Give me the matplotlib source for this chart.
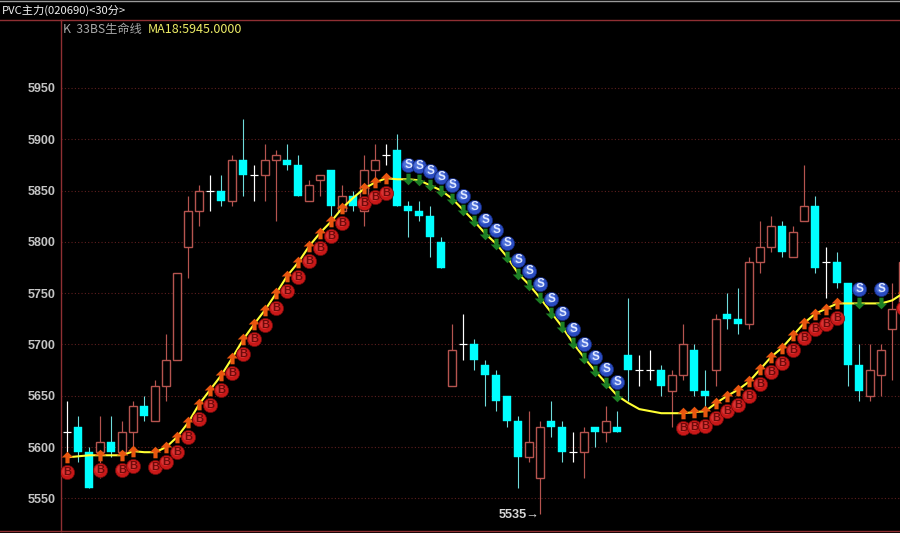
import matplotlib
matplotlib.use("Agg")
import matplotlib.pyplot as plt
import matplotlib.transforms as mtrans
from matplotlib.lines import Line2D
from matplotlib.path import Path
import numpy as np

title = "PVC主力(020690)<30分>"
legend_k = "K  33BS生命线"
legend_ma = "MA18:5945.0000"
low_label = "5535→"
low_label_price = 5535
low_label_index = 43
ticks = [5550, 5600, 5650, 5700, 5750, 5800, 5850, 5900, 5950]

highs = [5645,5630,5600,5630,5630,5625,5645,5650,5665,5710,5770,5845,5855,5865,5865,5885,5920,5875,5895,5890,
         5895,5885,5860,5865,5870,5855,5850,5885,5895,5895,5905,5840,5840,5835,5805,5720,5730,5705,5685,5675,
         5650,5630,5635,5625,5645,5625,5615,5620,5620,5640,5635,5745,5690,5695,5680,5675,5720,5700,5675,5730,
         5750,5755,5785,5820,5825,5820,5815,5875,5845,5795,5790,5760,5700,5700,5700,5760,5790]
tops = [5615,5620,5595,5605,5605,5615,5640,5640,5660,5685,5770,5830,5850,5850,5850,5880,5880,5865,5880,5885,
        5880,5875,5855,5865,5870,5845,5845,5870,5880,5885,5890,5835,5830,5825,5800,5695,5700,5700,5680,5670,
        5650,5625,5605,5620,5625,5620,5595,5615,5620,5625,5620,5690,5675,5675,5675,5670,5700,5695,5655,5725,
        5730,5725,5780,5795,5815,5815,5810,5835,5835,5780,5780,5760,5680,5675,5695,5735,5780]
bottoms = [5615,5595,5560,5595,5595,5595,5615,5630,5625,5660,5685,5795,5830,5850,5840,5840,5865,5865,5865,5880,
           5875,5845,5840,5860,5835,5830,5835,5830,5870,5885,5835,5830,5825,5805,5775,5660,5700,5685,5670,5645,
           5625,5590,5590,5570,5620,5595,5595,5595,5615,5615,5615,5675,5675,5675,5660,5655,5670,5655,5650,5675,
           5725,5720,5720,5780,5795,5790,5785,5820,5775,5780,5760,5680,5655,5650,5670,5715,5735]
lows = [5595,5585,5560,5570,5590,5590,5595,5625,5625,5645,5685,5765,5815,5830,5835,5835,5845,5840,5840,5820,
        5870,5845,5840,5845,5825,5830,5830,5815,5860,5875,5835,5805,5820,5785,5775,5660,5685,5675,5640,5635,
        5620,5560,5585,5535,5610,5585,5585,5570,5600,5605,5615,5645,5660,5665,5650,5620,5665,5650,5640,5660,
        5715,5710,5715,5770,5790,5785,5785,5820,5770,5745,5755,5660,5645,5645,5650,5665,5735]
rising = [0,0,0,1,0,1,1,0,1,1,1,1,1,0,0,1,0,0,1,1,
          0,0,1,1,0,1,0,1,1,0,0,0,0,0,0,1,0,0,0,0,
          0,0,1,1,0,0,0,1,0,1,0,0,0,0,0,1,1,0,0,1,
          0,0,1,1,1,0,1,1,0,0,0,0,0,1,1,1,1]
ma18 = [5590,5591,5592,5592,5592,5592,5596,5595,5595,5600,5610,5624,5642,5656,5670,5687,5705,5720,5734,5750,
        5767,5780,5796,5809,5820,5833,5843,5852,5858,5862,5861,5861,5860,5855,5850,5842,5831,5820,5808,5798,
        5785,5769,5758,5745,5731,5717,5701,5687,5674,5662,5650,5643,5637,5635,5633,5633,5633,5634,5635,5643,
        5650,5656,5664,5676,5688,5697,5709,5721,5730,5735,5740,5740,5740,5740,5740,5743,5750]
buy_idx = [0,3,5,6,8,9,10,11,12,13,14,15,16,17,18,19,20,21,22,23,24,25,27,28,29,
           56,57,58,59,60,61,62,63,64,65,66,67,68,69,70,76]
sell_idx = [31,32,33,34,35,36,37,38,39,40,41,42,43,44,45,46,47,48,49,50,72,74]

BG = "#000000"
FRAME = "#8f2f33"
GRID = "#5e1f1f"
RED = "#b5544f"
CYAN = "#00ffff"
WICK_CYAN = "#6fdcdc"
WHITE = "#ffffff"

plt.rcParams['font.family'] = ['Liberation Sans', 'Noto Sans CJK SC', 'DejaVu Sans']
W, H = 900, 533
fig = plt.figure(figsize=(9, 5.33), dpi=100, facecolor=BG)
L, R, T, B = 61.5, 900, 19.5, 531.0
ax = fig.add_axes([L / W, 1 - B / H, (R - L) / W, (B - T) / H], facecolor=BG)
ax.set_xlim(-0.527, 75.7)
ax.set_ylim(5518.2, 6016.7)

for s in ["top", "right", "bottom", "left"]:
    ax.spines[s].set_color(FRAME)
    ax.spines[s].set_linewidth(1.0)
ax.spines["right"].set_visible(False)
ax.set_xticks([])
ax.set_yticks(ticks)
ax.set_yticklabels([str(t) for t in ticks], color="#c4c4c4", fontsize=9, fontweight="bold")
ax.tick_params(axis="y", length=0, pad=4)
ax.grid(axis="y", color=GRID, linestyle=(0, (1, 2)), linewidth=0.8)
ax.set_axisbelow(True)

for yp in (T, B):
    fig.add_artist(Line2D([0, L / W], [1 - yp / H] * 2, color=FRAME, lw=1.0, transform=fig.transFigure))
fig.add_artist(Line2D([0, 1], [0.9985, 0.9985], color="#9a9a9a", lw=1.0, transform=fig.transFigure))

bw = 0.76
lw_px = 0.72
for i in range(len(highs)):
    h, t, b, l, up = highs[i], tops[i], bottoms[i], lows[i], rising[i]
    if t == b:
        ax.vlines(i, l, h, color=WHITE, lw=lw_px * 1.2, zorder=3)
        ax.hlines(t, i - bw / 2, i + bw / 2, color=WHITE, lw=lw_px * 1.2, zorder=3)
    elif up:
        ax.vlines(i, l, h, color=RED, lw=lw_px * 1.2, zorder=3)
        ax.bar(i, t - b, bottom=b, width=bw, facecolor=BG, edgecolor=RED, linewidth=lw_px * 1.4, zorder=4)
    else:
        ax.vlines(i, l, h, color=WICK_CYAN, lw=lw_px * 1.1, zorder=3)
        ax.bar(i, t - b, bottom=b, width=bw, facecolor=CYAN, edgecolor=CYAN, linewidth=0.3, zorder=4)

xs = np.arange(len(ma18))
ax.plot(xs, ma18, color="#ffff33", lw=1.5, zorder=5)

up_arrow = Path([(-0.36, -1), (0.36, -1), (0.36, 0), (1, 0), (0, 1), (-1, 0), (-0.36, 0), (-0.36, -1)], closed=True)
down_arrow = Path([(-0.36, 1), (0.36, 1), (0.36, 0), (1, 0), (0, -1), (-1, 0), (-0.36, 0), (-0.36, 1)], closed=True)

buy_y = [ma18[i] for i in buy_idx]
sell_y = [ma18[i] for i in sell_idx]
ax.scatter(buy_idx, buy_y, marker=up_arrow, s=70, color="#e8560f", linewidths=0, zorder=6)
ax.scatter(sell_idx, sell_y, marker=down_arrow, s=70, color="#1c7f24", linewidths=0, zorder=6)

off_b = mtrans.offset_copy(ax.transData, fig=fig, y=-15, units="dots")
off_s = mtrans.offset_copy(ax.transData, fig=fig, y=14, units="dots")
off_bh = mtrans.offset_copy(ax.transData, fig=fig, x=-1, y=-14, units="dots")
off_sh = mtrans.offset_copy(ax.transData, fig=fig, x=-1, y=15, units="dots")

ax.scatter(buy_idx, buy_y, s=105, color="#c81818", edgecolors="#6a0a0a", linewidths=0.5, transform=off_b, zorder=7)
ax.scatter(buy_idx, buy_y, s=40, color="#dc3a3a", linewidths=0, transform=off_bh, zorder=8, alpha=0.8)
ax.scatter(sell_idx, sell_y, s=105, color="#2a4cc0", edgecolors="#142670", linewidths=0.5, transform=off_s, zorder=7)
ax.scatter(sell_idx, sell_y, s=40, color="#5a7ce0", linewidths=0, transform=off_sh, zorder=8, alpha=0.8)
for i, y in zip(buy_idx, buy_y):
    if i <= 75:
        ax.text(i, y, "B", color="#6e0a0a", fontsize=8, fontweight="bold", ha="center", va="center",
                transform=off_b, zorder=9)
for i, y in zip(sell_idx, sell_y):
    ax.text(i, y, "S", color="#dfe8ff", fontsize=8.5, fontweight="bold", ha="center", va="center",
            transform=off_s, zorder=9)

ax.annotate(low_label, xy=(low_label_index, low_label_price), xytext=(-0.5, -1), textcoords="offset points",
            ha="right", va="center", color="#d8d8d8", fontsize=9.2, fontweight="bold", zorder=9)

fig.text(2 / W, 1 - 10.5 / H, title, color="#f0f0f0", fontsize=8.1, va="center", ha="left",
         family=['Noto Sans CJK SC', 'DejaVu Sans'])
fig.text(63 / W, 1 - 29.5 / H, legend_k, color="#a8a8a8", fontsize=8.8, va="center", ha="left",
         family=['Noto Sans CJK SC', 'DejaVu Sans'])
fig.text(148 / W, 1 - 29.5 / H, legend_ma, color="#ecec66", fontsize=9.0, va="center", ha="left",
         family=['Noto Sans CJK SC', 'DejaVu Sans'])

fig.savefig("out.png", dpi=100, facecolor=BG)
